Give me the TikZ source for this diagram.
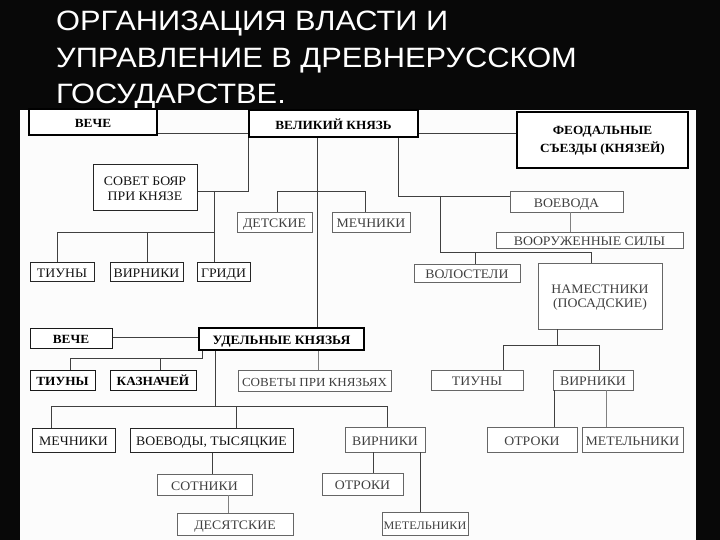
\documentclass[tikz,border=0pt]{standalone}
\usepackage{fontspec}
\setmainfont[FakeStretch=1.06]{Liberation Serif}
\newfontfamily\titlefont[FakeStretch=1.1]{Liberation Sans}
\newcommand\twolines[2]{\begin{tabular}{@{}c@{}}#1\\#2\end{tabular}}
\begin{document}
\begin{tikzpicture}[x=1pt,y=-1pt,
  title/.style={text=white, font=\titlefont\fontsize{28}{30}\selectfont, inner sep=0pt, anchor=base west},
  bx/.style={draw=black!60, line width=0.8pt, fill=white, inner sep=0pt,
    text height=11.5pt, text depth=0pt,
    text=black!75, font=\fontsize{13}{15}\selectfont},
  ml/.style={text height=, text depth=},
  bxd/.style={bx, draw=black!85, line width=1pt, text=black!92},
  bxb/.style={bx, draw=black!90, line width=1pt, text=black, font=\fontsize{12.5}{15}\selectfont\bfseries},
  tb/.style={bxb, draw=black, line width=2.4pt},
  conn/.style={draw=black!75, line width=0.9pt},
  lconn/.style={draw=black!50, line width=0.8pt}]
\useasboundingbox (0,0) rectangle (720,540);
\fill[black!97] (0,0) rectangle (720,540);
\fill[black!1] (20,110) rectangle (696,540);

% title
\node[title] (t1) at (56,31) {ОРГАНИЗАЦИЯ ВЛАСТИ И};
\node[title] (t2) at (56,67.5) {УПРАВЛЕНИЕ В ДРЕВНЕРУССКОМ};
\node[title] (t3) at (56,104) {ГОСУДАРСТВЕ.};

% top row
\node[tb, minimum width=128pt, minimum height=26pt] (veche1) at (93,122) {ВЕЧЕ};
\node[tb, minimum width=169pt, minimum height=27pt] (vk) at (333.5,123.5) {ВЕЛИКИЙ КНЯЗЬ};
\node[tb, ml, minimum width=171pt, minimum height=56pt, font=\fontsize{12.5}{18}\selectfont\bfseries] (feo) at (602.5,140) {\twolines{ФЕОДАЛЬНЫЕ}{СЪЕЗДЫ (КНЯЗЕЙ)}};

% left upper
\node[bxd, ml, minimum width=104pt, minimum height=46pt] (sovet) at (145,188) {};
\node[text=black!92, font=\fontsize{13}{15}\selectfont, inner sep=0pt] (sovett) at (145,190) {\twolines{СОВЕТ БОЯР}{ПРИ КНЯЗЕ}};
\node[bxd, minimum width=64pt, minimum height=19pt] (tiuny1) at (62,271.5) {ТИУНЫ};
\node[bxd, minimum width=73pt, minimum height=19pt] (virniki1) at (146.5,271.5) {ВИРНИКИ};
\node[bxd, minimum width=53pt, minimum height=19pt] (gridi) at (223.5,271.5) {ГРИДИ};

% middle upper
\node[bx, minimum width=75pt, minimum height=20pt] (detskie) at (274.5,222) {ДЕТСКИЕ};
\node[bx, minimum width=78pt, minimum height=20pt] (mechniki1) at (371,222) {МЕЧНИКИ};

% right upper
\node[bx, minimum width=113pt, minimum height=21pt] (voevoda) at (566.5,201.5) {ВОЕВОДА};
\node[bx, minimum width=187pt, minimum height=16pt] (vs) at (589.5,240) {ВООРУЖЕННЫЕ СИЛЫ};
\node[bx, minimum width=106pt, minimum height=18pt] (volosteli) at (467,273) {ВОЛОСТЕЛИ};
\node[bx, ml, minimum width=124pt, minimum height=66pt] (namest) at (600,296) {};
\node[text=black!75, font=\fontsize{13}{14}\selectfont, inner sep=0pt] (namestt) at (600,298) {\twolines{НАМЕСТНИКИ}{(ПОСАДСКИЕ)}};
\node[bx, minimum width=92pt, minimum height=20pt] (tiuny3) at (477,380) {ТИУНЫ};
\node[bx, minimum width=80pt, minimum height=20pt] (virniki3) at (593,380) {ВИРНИКИ};
\node[bx, minimum width=90pt, minimum height=25pt] (otroki3) at (532,439.5) {ОТРОКИ};
\node[bx, minimum width=101pt, minimum height=25pt] (metel3) at (632.5,439.5) {МЕТЕЛЬНИКИ};

% udelnye
\node[bxb, minimum width=82pt, minimum height=20pt] (veche2) at (71,338) {ВЕЧЕ};
\node[bxb, draw=black, line width=1.8pt, minimum width=165pt, minimum height=22pt, font=\fontsize{12.8}{15}\selectfont\bfseries] (udel) at (281.5,339) {УДЕЛЬНЫЕ КНЯЗЬЯ};
\node[bxb, minimum width=65pt, minimum height=20pt] (tiuny2) at (62.5,380) {ТИУНЫ};
\node[bxb, minimum width=86pt, minimum height=20pt] (kazn) at (153,380) {КАЗНАЧЕЙ};
\node[bx, minimum width=153pt, minimum height=21pt, font=\fontsize{12.3}{15}\selectfont] (sovety) at (314.5,380.5) {СОВЕТЫ ПРИ КНЯЗЬЯХ};

% bottom
\node[bxd, minimum width=83pt, minimum height=24pt] (mechniki2) at (73.5,440) {МЕЧНИКИ};
\node[bxd, minimum width=163pt, minimum height=24pt] (voevody) at (211.5,440) {ВОЕВОДЫ, ТЫСЯЦКИЕ};
\node[bx, minimum width=80pt, minimum height=25pt] (virniki2) at (385,439.5) {ВИРНИКИ};
\node[bx, minimum width=95pt, minimum height=21pt] (sotniki) at (204.5,484.5) {СОТНИКИ};
\node[bx, minimum width=81pt, minimum height=22pt] (otroki2) at (362.5,484) {ОТРОКИ};
\node[bx, minimum width=116pt, minimum height=22pt] (desyat) at (235,524) {ДЕСЯТСКИЕ};
\node[bx, minimum width=86pt, minimum height=23pt, font=\fontsize{11.5}{15}\selectfont] (metel2) at (425,523.5) {МЕТЕЛЬНИКИ};

% connectors: top
\draw[conn] (veche1.east |- 0,133) -- (vk.west |- 0,133);
\draw[conn] (vk.east |- 0,133) -- (feo.west |- 0,133);
\draw[conn] (vk.south -| 248,0) |- (sovet.east |- 0,191);
\draw[conn] (214,191) -- (gridi.north -| 214,0);
\draw[conn] (214,232) -| (tiuny1.north -| 57,0);
\draw[conn] (147,232) -- (virniki1.north -| 147,0);
\draw[conn] (vk.south -| 317,0) -- (udel.north -| 317,0);
\draw[conn] (detskie.north -| 277,0) |- (365,191) -- (mechniki1.north -| 365,0);
\draw[conn] (vk.south -| 398,0) |- (voevoda.west |- 0,196);
\draw[lconn] (voevoda.south -| 570,0) -- (vs.north -| 570,0);
\draw[conn] (440,196) |- (591,252) -- (namest.north -| 591,0);
\draw[conn] (475,252) -- (volosteli.north -| 475,0);
\draw[conn] (namest.south -| 557,0) -- (557,345);
\draw[conn] (tiuny3.north -| 503,0) |- (599,345) -- (virniki3.north -| 599,0);
\draw[conn] (virniki3.south -| 554,0) -- (otroki3.north -| 554,0);
\draw[lconn] (virniki3.south -| 606,0) -- (metel3.north -| 606,0);

% connectors: udelnye
\draw[conn] (veche2.east |- 0,337) -- (udel.west |- 0,337);
\draw[conn] (udel.south -| 202,0) |- (70,358) -- (tiuny2.north -| 70,0);
\draw[conn] (160,358) -- (kazn.north -| 160,0);
\draw[lconn] (udel.south -| 318,0) -- (sovety.north -| 318,0);
\draw[conn] (udel.south -| 215,0) -- (215,406);
\draw[conn] (mechniki2.north -| 51,0) |- (387,406) -- (virniki2.north -| 387,0);
\draw[conn] (236,406) -- (voevody.north -| 236,0);
\draw[conn] (voevody.south -| 212,0) -- (sotniki.north -| 212,0);
\draw[lconn] (sotniki.south -| 228,0) -- (desyat.north -| 228,0);
\draw[conn] (virniki2.south -| 373,0) -- (otroki2.north -| 373,0);
\draw[conn] (virniki2.south -| 420,0) -- (metel2.north -| 420,0);
\end{tikzpicture}
\end{document}
